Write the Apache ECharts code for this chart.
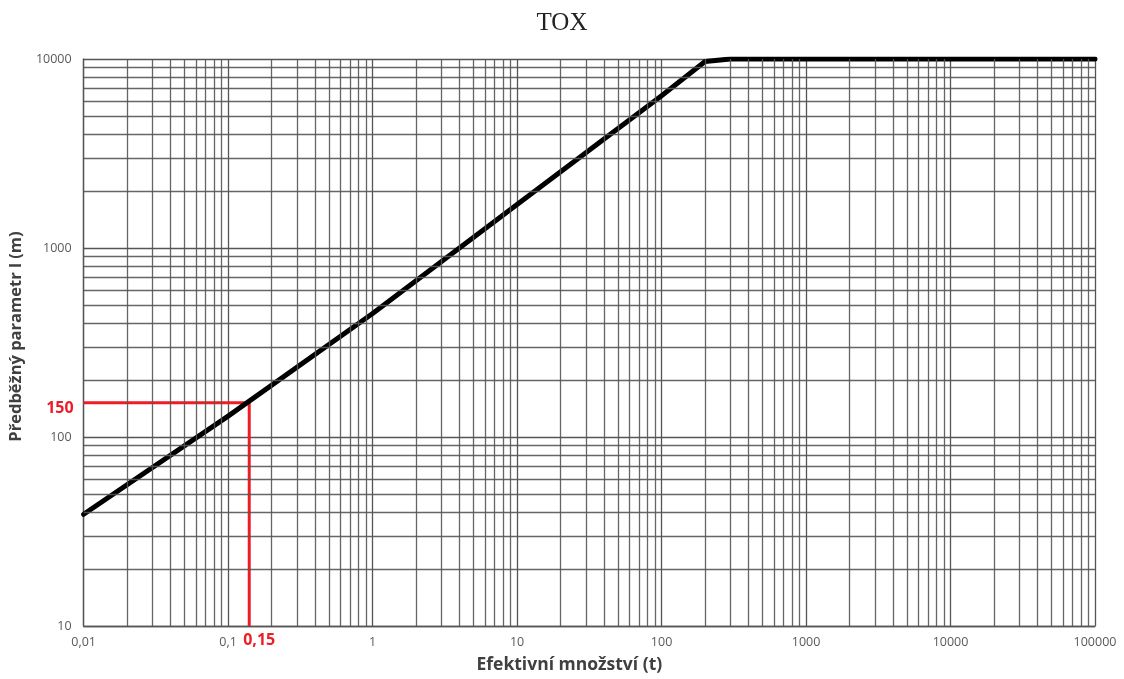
<!DOCTYPE html>
<html>
<head>
<meta charset="utf-8">
<script src="https://cdn.jsdelivr.net/npm/echarts@6/dist/echarts.min.js"></script>
<style>html,body{margin:0;padding:0;background:#fff}#c{width:1124px;height:679px}</style>
</head>
<body>
<div id="c"></div>
<script>
const xTickLabels = ['0,01','0,1','1','10','100','1000','10000','100000'];
const yTickLabels = ['10','100','1000','10000'];
const toxX = [0.01, 0.1, 1, 10, 100, 200, 300, 100000];
const toxY = [39, 129, 450, 1700, 6400, 9700, 10000, 10000];
const markerX = [0.01, 0.14, 0.14];
const markerY = [152, 152, 10];
const markerLabelY = '150';
const markerLabelX = '0,15';
const xDecades = [0.01, 0.1, 1, 10, 100, 1000, 10000];
const yDecades = [10, 100, 1000];
const minorSteps = [2, 3, 4, 5, 6, 7, 8, 9];

const minorLines = [];
xDecades.forEach(d => minorSteps.forEach(m => minorLines.push({xAxis: +(d * m).toPrecision(6)})));
yDecades.forEach(d => minorSteps.forEach(m => minorLines.push({yAxis: +(d * m).toPrecision(6)})));

const gridColor = '#555';
const gridWidth = 1.3;
const chart = echarts.init(document.getElementById('c'), null, {renderer: 'canvas'});
chart.setOption({
  animation: false,
  backgroundColor: '#fff',
  title: {
    text: 'TOX', left: 'center', top: 6,
    textStyle: {fontFamily: 'Liberation Serif', fontSize: 25, fontWeight: 'normal', color: '#222'}
  },
  grid: {left: 83, right: 29, top: 59, bottom: 52},
  xAxis: {
    type: 'log', logBase: 10, min: 0.01, max: 100000,
    name: 'Efektivní množství (t)', nameLocation: 'middle', nameGap: 30,
    nameTextStyle: {fontFamily: 'Open Sans', fontSize: 17.5, fontWeight: 'bold', color: '#404040', padding: [0, 40, 0, 0]},
    axisLine: {lineStyle: {color: gridColor, width: gridWidth}},
    axisTick: {show: false},
    axisLabel: {
      fontFamily: 'Open Sans', fontSize: 12.5, color: '#595959', margin: 10,
      formatter: (v, i) => xTickLabels[i] !== undefined ? xTickLabels[i] : ''
    },
    splitLine: {show: true, lineStyle: {color: gridColor, width: gridWidth}}
  },
  yAxis: {
    type: 'log', logBase: 10, min: 10, max: 10000,
    name: 'Předběžný parametr l (m)', nameLocation: 'middle', nameGap: 45,
    nameTextStyle: {fontFamily: 'Open Sans', fontSize: 16.5, fontWeight: 'bold', color: '#404040', padding: [0, 0, 0, 12]},
    axisLine: {lineStyle: {color: gridColor, width: gridWidth}},
    axisTick: {show: false},
    axisLabel: {
      fontFamily: 'Open Sans', fontSize: 12.5, color: '#595959', margin: 12,
      formatter: (v, i) => yTickLabels[i] !== undefined ? yTickLabels[i] : ''
    },
    splitLine: {show: true, lineStyle: {color: gridColor, width: gridWidth}}
  },
  series: [
    {
      name: 'minor', type: 'line', data: [], silent: true, z: 1,
      markLine: {
        silent: true, symbol: ['none', 'none'], animation: false,
        label: {show: false},
        lineStyle: {color: gridColor, width: gridWidth, type: 'solid', opacity: 0.9},
        emphasis: {disabled: true},
        data: minorLines
      }
    },
    {
      name: 'marker', type: 'line', z: 3, symbol: 'none', silent: true,
      lineStyle: {color: '#ee1c25', width: 3},
      data: markerX.map((x, i) => [x, markerY[i]]),
      markPoint: {
        symbol: 'circle', symbolSize: 0, silent: true,
        label: {show: true, fontFamily: 'Open Sans', fontSize: 16, fontWeight: 'bold', color: '#ee1c25'},
        data: [
          {coord: [markerX[0], markerY[0]], label: {formatter: markerLabelY, position: 'left', distance: 10, offset: [0, 6]}},
          {coord: [markerX[2], markerY[2]], label: {formatter: markerLabelX, position: 'bottom', distance: 6, offset: [10, 0]}}
        ]
      }
    },
    {
      name: 'TOX', type: 'line', z: 4, symbol: 'none', silent: true,
      lineStyle: {color: '#000', width: 5, cap: 'round', join: 'round'},
      data: toxX.map((x, i) => [x, toxY[i]])
    }
  ]
});
</script>
</body>
</html>
